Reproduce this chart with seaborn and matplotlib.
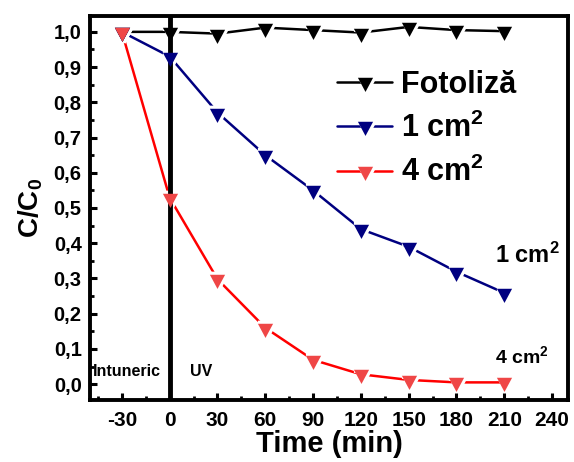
import matplotlib
matplotlib.use("Agg")
import matplotlib.pyplot as plt
import seaborn as sns
import numpy as np
import pandas as pd
from matplotlib.lines import Line2D
from matplotlib.legend_handler import HandlerTuple
from matplotlib.ticker import MultipleLocator, FuncFormatter

# ---- data ----
time_min = [-30, 0, 30, 60, 90, 120, 150, 180, 210]
fotoliza = [1.000, 1.000, 0.995, 1.012, 1.005, 0.998, 1.014, 1.005, 1.002]
cm1 = [1.000, 0.930, 0.771, 0.650, 0.550, 0.440, 0.390, 0.319, 0.259]
cm4 = [1.000, 0.529, 0.298, 0.160, 0.069, 0.028, 0.012, 0.005, 0.005]
series_names = ["Fotoliză", "1 cm$^{\\mathbf{2}}$", "4 cm$^{\\mathbf{2}}$"]
x_ticks = [-30, 0, 30, 60, 90, 120, 150, 180, 210, 240]
y_ticks = [0.0, 0.1, 0.2, 0.3, 0.4, 0.5, 0.6, 0.7, 0.8, 0.9, 1.0]

sns.set_style("ticks")
plt.rcParams["font.family"] = ["Liberation Sans", "DejaVu Sans"]
plt.rcParams["font.weight"] = "bold"
plt.rcParams["mathtext.fontset"] = "custom"
plt.rcParams["mathtext.rm"] = "Liberation Sans:bold"
plt.rcParams["mathtext.bf"] = "Liberation Sans:bold"
plt.rcParams["mathtext.it"] = "Liberation Sans:bold"
plt.rcParams["axes.unicode_minus"] = False
for k in ["text.color", "axes.labelcolor", "xtick.color", "ytick.color",
          "xtick.labelcolor", "ytick.labelcolor"]:
    plt.rcParams[k] = "black"

fig = plt.figure(figsize=(5.74, 4.62), dpi=100)
ax = fig.add_axes([90/574, 62/462, 478/574, 384/462])

tri = [(-7.5, 4.67), (7.5, 4.67), (0, -9.33)]
ms = 13.6

line_cols = ["black", "#000080", "#FF0000"]
mark_cols = ["black", "#000080", "#EF4646"]
vals = [fotoliza, cm1, cm4]

for v, lc, mc in zip(vals, line_cols, mark_cols):
    sns.lineplot(x=time_min, y=v, ax=ax, color=lc, lw=1.8, sort=False, zorder=2)
    sns.lineplot(x=time_min, y=v, ax=ax, color="white", linestyle="none",
                 marker=tri, markersize=ms, markerfacecolor="white",
                 markeredgecolor="white", markeredgewidth=4.5, zorder=3)
    sns.lineplot(x=time_min, y=v, ax=ax, color=mc, linestyle="none",
                 marker=tri, markersize=ms, markerfacecolor=mc,
                 markeredgecolor=mc, markeredgewidth=0, zorder=5)

ax.axvline(0, color="black", lw=3.5, zorder=4)

ax.set_xlim(-50, 250)
ax.set_ylim(-0.045, 1.045)
ax.set_xticks(x_ticks)
ax.set_yticks(y_ticks)
ax.xaxis.set_minor_locator(MultipleLocator(15))
ax.yaxis.set_minor_locator(MultipleLocator(0.05))
ax.yaxis.set_major_formatter(FuncFormatter(lambda v, p: f"{v:.1f}".replace(".", ",")))

for s in ax.spines.values():
    s.set_linewidth(2.8)
    s.set_color("black")
    s.set_visible(True)

ax.tick_params(axis="both", which="major", direction="in", length=5, width=2.2,
               top=False, right=False, colors="black")
ax.tick_params(axis="both", which="minor", direction="in", length=3, width=2.0,
               top=False, right=False, colors="black")
ax.tick_params(axis="x", which="major", labelsize=15, pad=8)
ax.tick_params(axis="y", which="major", labelsize=14.5, pad=6)
for lab in ax.get_xticklabels() + ax.get_yticklabels():
    lab.set_fontweight("bold")

ax.set_xlabel("Time (min)", fontsize=21, fontweight="bold", labelpad=0)
ax.set_ylabel(r"$\mathbf{C/C_0}$", fontsize=20, labelpad=6)

ax.text(-48.5, 0.035, "Intuneric", fontsize=11.5, fontweight="bold",
        ha="left", va="center")
ax.text(19.5, 0.035, "UV", fontsize=11.5, fontweight="bold", ha="center", va="center")
ax.text(224.5, 0.365, "1 cm$^{\\mathbf{2}}$", fontsize=17, ha="center", va="center")
ax.text(221, 0.08, "4 cm$^{\\mathbf{2}}$", fontsize=14, ha="center", va="center")

handles = []
for lc, mc in zip(line_cols, mark_cols):
    halo = Line2D([], [], color=lc, lw=1.8, marker=tri, markersize=ms,
                  markerfacecolor="white", markeredgecolor="white",
                  markeredgewidth=4.5)
    mark = Line2D([], [], linestyle="none", marker=tri, markersize=ms,
                  markerfacecolor=mc, markeredgecolor=mc, markeredgewidth=0)
    handles.append((halo, mark))
leg = fig.legend(handles, series_names, loc="upper left",
                 bbox_to_anchor=(337/574, 1 - 70/462), frameon=False,
                 prop={"size": 22, "weight": "bold"}, handlelength=1.8,
                 handletextpad=0.3, labelspacing=0.42, borderpad=0,
                 borderaxespad=0,
                 handler_map={tuple: HandlerTuple(ndivide=1, pad=0)})

fig.savefig("out.png", dpi=100)
